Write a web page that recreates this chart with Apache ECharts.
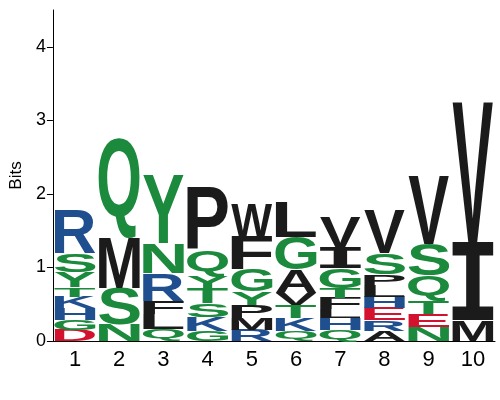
<!DOCTYPE html>
<html>
<head>
<meta charset="utf-8">
<script src="https://cdn.jsdelivr.net/npm/echarts@6/dist/echarts.min.js"></script>
<style>
  html, body { margin: 0; padding: 0; background: #fff; }
  #main { width: 500px; height: 400px; }
</style>
</head>
<body>
<div id="main"></div>
<script>
// sequence logo: positions, letters per column (bottom to top) and their heights in bits
var positions = ['1', '2', '3', '4', '5', '6', '7', '8', '9', '10'];
var columnLetters = [
  'DGHKTYSR',
  'NSMQ',
  'QLFRNY',
  'GKSTYQP',
  'RMPYGFW',
  'QKTVAGL',
  'QHLFTGIV',
  'AREHLPSV',
  'NETQSV',
  'MIV'
];
var columnHeights = [
  [0.15, 0.14, 0.16, 0.15, 0.13, 0.21, 0.25, 0.59],
  [0.22, 0.50, 0.68, 1.36],
  [0.16, 0.21, 0.18, 0.37, 0.41, 0.93],
  [0.14, 0.19, 0.18, 0.21, 0.15, 0.37, 0.84],
  [0.15, 0.16, 0.18, 0.18, 0.30, 0.45, 0.45],
  [0.14, 0.17, 0.18, 0.16, 0.32, 0.45, 0.47],
  [0.15, 0.16, 0.12, 0.15, 0.14, 0.27, 0.28, 0.42],
  [0.14, 0.14, 0.17, 0.15, 0.16, 0.14, 0.29, 0.59],
  [0.19, 0.18, 0.18, 0.34, 0.43, 0.92],
  [0.28, 1.06, 1.90]
];
var yTicks = [0, 1, 2, 3, 4];

var GREEN = '#1b8a3c', BLUE = '#1f4f8f', RED = '#d2122e', BLACK = '#1b1b1b';
function letterColor(ch) {
  if ('GSTYCQN'.indexOf(ch) >= 0) return GREEN;
  if ('KRH'.indexOf(ch) >= 0) return BLUE;
  if ('DE'.indexOf(ch) >= 0) return RED;
  return BLACK;
}

// the logo's I has bars top and bottom, so take it from a mono face
function letterFont(ch) {
  return ch === 'I' ? 'bold 100px "DejaVu Sans Mono"' : 'bold 100px "Liberation Sans"';
}

var measureCtx = document.createElement('canvas').getContext('2d');
var inkCache = {};
function ink(ch) {
  if (inkCache[ch]) return inkCache[ch];
  measureCtx.font = letterFont(ch);
  measureCtx.textAlign = 'left';
  measureCtx.textBaseline = 'middle';
  var m = measureCtx.measureText(ch);
  inkCache[ch] = {
    left: -m.actualBoundingBoxLeft,
    right: m.actualBoundingBoxRight,
    top: -m.actualBoundingBoxAscent,
    bottom: m.actualBoundingBoxDescent
  };
  return inkCache[ch];
}

// stack letters into [column, y0, y1]
var stackData = [];
var stackLetters = [];
for (var c = 0; c < columnLetters.length; c++) {
  var base = 0;
  for (var k = 0; k < columnLetters[c].length; k++) {
    var h = columnHeights[c][k];
    stackData.push([c, base, base + h]);
    stackLetters.push(columnLetters[c][k]);
    base += h;
  }
}

function renderLetter(params, api) {
  var ch = stackLetters[params.dataIndex];
  var ci = api.value(0);
  var p0 = api.coord([ci, api.value(1)]);
  var p1 = api.coord([ci, api.value(2)]);
  var band = api.size([1, 0])[0];
  var w = band * 0.93;
  var left = p0[0] - w / 2;
  var top = p1[1];
  var hgt = p0[1] - p1[1];
  var b = ink(ch);
  var sx = w / (b.right - b.left);
  var sy = hgt / (b.bottom - b.top);
  return {
    type: 'text',
    x: left - b.left * sx,
    y: top - b.top * sy,
    scaleX: sx,
    scaleY: sy,
    style: {
      text: ch,
      x: 0,
      y: 0,
      font: letterFont(ch),
      fill: letterColor(ch),
      align: 'left',
      verticalAlign: 'middle',
      textAlign: 'left',
      textVerticalAlign: 'middle'
    }
  };
}

var chart = echarts.init(document.getElementById('main'));
var option = {
  animation: false,
  grid: { left: 45, right: 5, top: 10, bottom: 59 },
  xAxis: {
    type: 'category',
    data: positions,
    boundaryGap: true,
    axisLine: { lineStyle: { color: '#000', width: 1 } },
    axisTick: { alignWithLabel: true, length: 4, lineStyle: { color: '#000' } },
    axisLabel: { color: '#000', fontSize: 22, fontFamily: 'Liberation Sans', margin: 8 },
    splitLine: { show: false }
  },
  yAxis: {
    type: 'value',
    min: 0,
    max: 4.5,
    interval: 1,
    name: 'Bits',
    nameLocation: 'middle',
    nameGap: 23,
    nameTextStyle: { color: '#000', fontSize: 17, fontFamily: 'Liberation Sans' },
    axisLine: { show: true, lineStyle: { color: '#000', width: 1 } },
    axisTick: { show: true, length: 6, customValues: yTicks, lineStyle: { color: '#000' } },
    axisLabel: { color: '#000', fontSize: 18, fontFamily: 'Liberation Sans', margin: 7, customValues: yTicks },
    splitLine: { show: false }
  },
  series: [{
    type: 'custom',
    renderItem: renderLetter,
    encode: { x: 0, y: [1, 2] },
    data: stackData
  }]
};
chart.setOption(option);
</script>
</body>
</html>
